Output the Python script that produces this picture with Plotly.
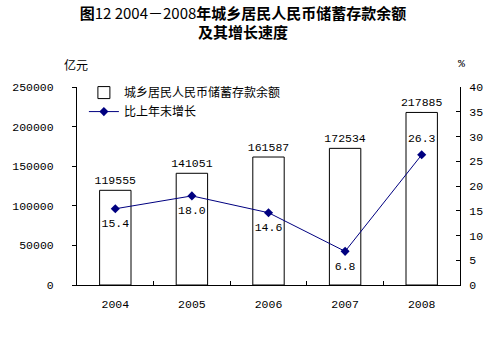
import plotly.graph_objects as go

years = ["2004", "2005", "2006", "2007", "2008"]
balance = [119555, 141051, 161587, 172534, 217885]
growth = [15.4, 18.0, 14.6, 6.8, 26.3]
growth_pos = ["bottom center", "bottom center", "bottom center", "bottom center", "top center"]

bar_name = "城乡居民人民币储蓄存款余额"
line_name = "比上年末增长"
title_text = "<b>图</b>12 2004－2008<b>年城乡居民人民币储蓄存款余额</b><br><b>及其增长速度</b>"

num_font = dict(family="Liberation Mono, DejaVu Sans Mono, monospace", size=11.5, color="black")
cjk_font = dict(family="Noto Sans CJK SC, sans-serif", size=12, color="black")

fig = go.Figure()
fig.add_trace(go.Bar(
    x=years, y=balance, name=bar_name,
    marker=dict(color="white", line=dict(color="black", width=1)),
    width=0.41,
    text=[str(v) for v in balance], textposition="outside",
    textfont=num_font, cliponaxis=False, constraintext="none",
))
fig.add_trace(go.Scatter(
    x=years, y=growth, name=line_name, yaxis="y2",
    mode="lines+markers",
    line=dict(color="#000080", width=1),
    marker=dict(symbol="diamond", size=7, color="#000080"),
))
fig.add_trace(go.Scatter(
    x=years, y=growth, yaxis="y2", mode="markers+text", showlegend=False,
    marker=dict(size=14, opacity=0),
    text=[f"{v:.1f}" for v in growth], textposition=growth_pos,
    textfont=num_font, cliponaxis=False, hoverinfo="skip",
))

fig.update_layout(
    width=498, height=337,
    margin=dict(l=67, r=38, t=87, b=52),
    paper_bgcolor="white", plot_bgcolor="white",
    title=dict(text=title_text, x=0.488, xanchor="center", y=0.945, yanchor="top",
               font=dict(family="Noto Sans CJK SC, sans-serif", size=15, color="black")),
    showlegend=True,
    legend=dict(x=0.018, y=1.045, xanchor="left", yanchor="top", bgcolor="rgba(0,0,0,0)",
                font=cjk_font, tracegroupgap=0, itemwidth=30),
    bargap=0.59,
    xaxis=dict(showline=True, linecolor="black", linewidth=1, showgrid=False,
               ticks="inside", tickson="boundaries", ticklen=4, tickcolor="black",
               tickfont=num_font, ticklabelstandoff=8),
    yaxis=dict(range=[0, 250000], dtick=50000, tickformat="d", showline=True, linecolor="black", linewidth=1,
               showgrid=False, ticks="outside", ticklen=4, tickcolor="black",
               tickfont=num_font, zeroline=False, ticklabelstandoff=16),
    yaxis2=dict(range=[0, 40], dtick=5, overlaying="y", side="right", showline=True,
                linecolor="black", linewidth=1, showgrid=False, ticks="inside", ticklen=4,
                tickcolor="black", tickfont=num_font, zeroline=False, ticklabelstandoff=6),
    annotations=[
        dict(text="亿元", x=66, y=64, xref="paper", yref="paper", xanchor="center", yanchor="middle",
             showarrow=False, font=cjk_font),
        dict(text="%", x=462, y=63, xref="paper", yref="paper", xanchor="center", yanchor="middle",
             showarrow=False, font=num_font),
    ],
)
W, H = 498, 337
L, R, T, B = 67, 38, 87, 52
pw, ph = W - L - R, H - T - B
for a in fig.layout.annotations:
    a.x = (a.x - L) / pw
    a.y = (H - B - a.y) / ph

fig.write_html("out.html")
